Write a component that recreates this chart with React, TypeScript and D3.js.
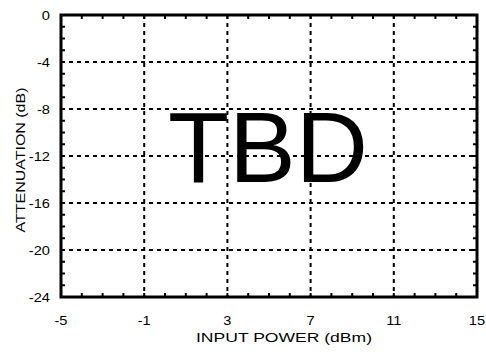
import React from "react";
import * as d3 from "d3";

const xTicks = [-5, -1, 3, 7, 11, 15];
const yTicks = [0, -4, -8, -12, -16, -20, -24];
const xMinor = d3.range(-5, 16, 1);
const yMinor = d3.range(-24, 1, 1);
const xTitle = "INPUT POWER (dBm)";
const yTitle = "ATTENUATION (dB)";
const placeholder = "TBD";

const W = 486, H = 355;
const L = 61, R = 477, T = 15, B = 297;
const font = "'Liberation Sans', Arial, sans-serif";
const sx = 1.17;

export default function App() {
  const x = d3.scaleLinear().domain([-5, 15]).range([L, R]);
  const y = d3.scaleLinear().domain([0, -24]).range([T, B]);
  const tl = 4;
  return (
    <svg width={W} height={H} style={{ position: "absolute", left: 0, top: 0, background: "#fff" }}>
      <rect x={0} y={0} width={W} height={H} fill="#fff" />
      {xTicks.slice(1, -1).map((t) => (
        <line key={"gx" + t} x1={x(t)} x2={x(t)} y1={T} y2={B} stroke="#000" strokeWidth={2} strokeDasharray="4,4" />
      ))}
      {yTicks.slice(1, -1).map((t) => (
        <line key={"gy" + t} x1={L} x2={R} y1={y(t)} y2={y(t)} stroke="#000" strokeWidth={2} strokeDasharray="4,4" />
      ))}
      {xMinor.map((t) => (
        <g key={"mx" + t}>
          <line x1={x(t)} x2={x(t)} y1={B} y2={B - tl} stroke="#000" strokeWidth={2} />
          <line x1={x(t)} x2={x(t)} y1={T} y2={T + tl} stroke="#000" strokeWidth={2} />
        </g>
      ))}
      {yMinor.map((t) => (
        <g key={"my" + t}>
          <line x1={L} x2={L + tl} y1={y(t)} y2={y(t)} stroke="#000" strokeWidth={2} />
          <line x1={R} x2={R - tl} y1={y(t)} y2={y(t)} stroke="#000" strokeWidth={2} />
        </g>
      ))}
      <rect x={L} y={T} width={R - L} height={B - T} fill="none" stroke="#000" strokeWidth={3} />
      {xTicks.map((t) => (
        <text key={"xl" + t} transform={`translate(${x(t)},325) scale(${sx},1)`} textAnchor="middle" fontFamily={font} fontSize={12.5}>{t}</text>
      ))}
      {yTicks.map((t) => (
        <text key={"yl" + t} transform={`translate(50,${y(t) + 4.5}) scale(${sx},1)`} textAnchor="end" fontFamily={font} fontSize={12.5}>{t}</text>
      ))}
      <text x={284} y={342} textAnchor="middle" fontFamily={font} fontSize={12.5} textLength={176} lengthAdjust="spacingAndGlyphs">{xTitle}</text>
      <text transform={`translate(25,160) rotate(-90)`} textAnchor="middle" fontFamily={font} fontSize={12.5} textLength={145} lengthAdjust="spacingAndGlyphs">{yTitle}</text>
      <text x={168} y={182} fontFamily={font} fontSize={100}>{placeholder}</text>
    </svg>
  );
}
